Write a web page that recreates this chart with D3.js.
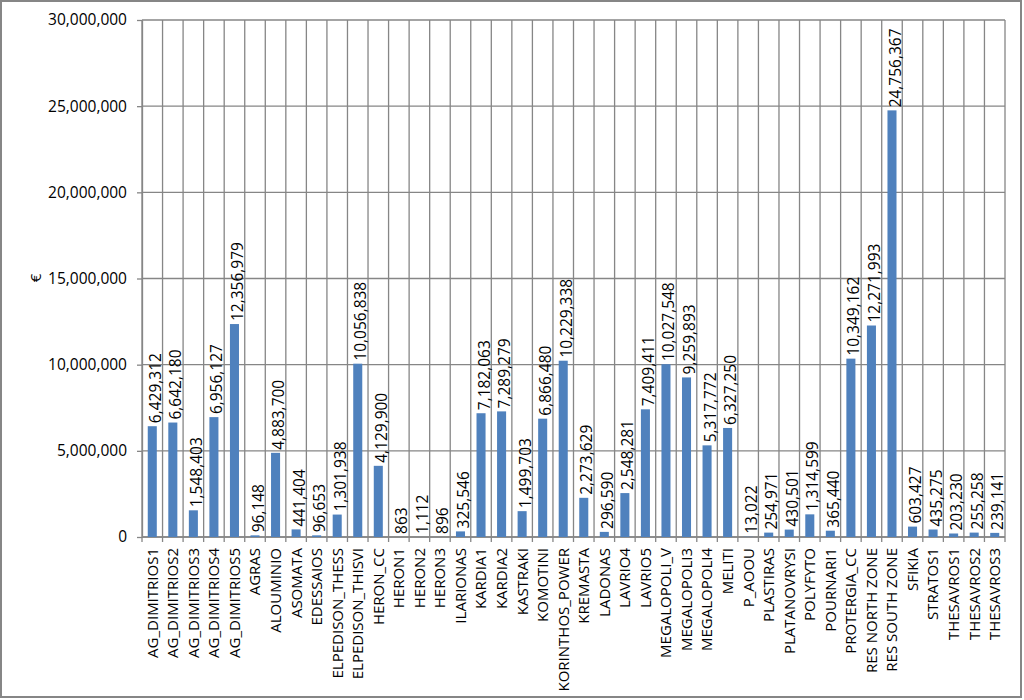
<!DOCTYPE html>
<html><head><meta charset="utf-8">
<script src="https://cdn.jsdelivr.net/npm/d3@7"></script>
<style>body{margin:0;background:#fff}svg{display:block}</style>
</head><body><svg id="c" width="1024" height="700"></svg>
<script>
const categories = ["AG_DIMITRIOS1","AG_DIMITRIOS2","AG_DIMITRIOS3","AG_DIMITRIOS4","AG_DIMITRIOS5","AGRAS","ALOUMINIO","ASOMATA","EDESSAIOS","ELPEDISON_THESS","ELPEDISON_THISVI","HERON_CC","HERON1","HERON2","HERON3","ILARIONAS","KARDIA1","KARDIA2","KASTRAKI","KOMOTINI","KORINTHOS_POWER","KREMASTA","LADONAS","LAVRIO4","LAVRIO5","MEGALOPOLI_V","MEGALOPOLI3","MEGALOPOLI4","MELITI","P_AOOU","PLASTIRAS","PLATANOVRYSI","POLYFYTO","POURNARI1","PROTERGIA_CC","RES NORTH ZONE","RES SOUTH ZONE","SFIKIA","STRATOS1","THESAVROS1","THESAVROS2","THESAVROS3"];
const values = [6429312,6642180,1548403,6956127,12356979,96148,4883700,441404,96653,1301938,10056838,4129900,863,1112,896,325546,7182063,7289279,1499703,6866480,10229338,2273629,296590,2548281,7409411,10027548,9259893,5317772,6327250,13022,254971,430501,1314599,365440,10349162,12271993,24756367,603427,435275,203230,255258,239141];
const yTicks = [0,5000000,10000000,15000000,20000000,25000000,30000000];
const yTitle = "€";

const svg = d3.select("#c");
const font = "'Open Sans', sans-serif";
const grid = "#868686";
const L = 142, R = 1005, T = 20, B = 537;

svg.append("rect").attr("x",1).attr("y",1).attr("width",1020).attr("height",696)
  .attr("fill","none").attr("stroke",grid).attr("stroke-width",2);

const x = d3.scaleBand().domain(categories).range([L,R]).paddingInner(0.56).paddingOuter(0.28);
const y = d3.scaleLinear().domain([0,30000000]).range([B,T]);
const fmt = d3.format(",");

// horizontal gridlines
svg.append("g").selectAll("line").data(yTicks).join("line")
  .attr("x1",L).attr("x2",R).attr("y1",d=>y(d)).attr("y2",d=>y(d))
  .attr("stroke",grid).attr("stroke-width",1.3);

// vertical category gridlines
const step = x.step();
const bounds = d3.range(categories.length+1).map(i => L + i*(R-L)/categories.length);
svg.append("g").selectAll("line").data(bounds).join("line")
  .attr("x1",d=>d).attr("x2",d=>d).attr("y1",T).attr("y2",B+5)
  .attr("stroke",grid).attr("stroke-width",1.3);

// y axis
const ya = svg.append("g").attr("transform",`translate(${L},0)`)
  .call(d3.axisLeft(y).tickValues(yTicks).tickFormat(fmt).tickSizeInner(5).tickSizeOuter(0).tickPadding(10));
ya.select(".domain").attr("stroke",grid).attr("stroke-width",1.3);
ya.selectAll(".tick line").attr("stroke",grid).attr("stroke-width",1.3);
ya.selectAll("text").attr("font-family",font).attr("font-size",15.5).attr("fill","#000");

// x axis line
svg.append("line").attr("x1",L).attr("x2",R).attr("y1",B).attr("y2",B).attr("stroke",grid).attr("stroke-width",1.3);

// bars
svg.append("g").selectAll("rect").data(values).join("rect")
  .attr("x",(d,i)=>x(categories[i])).attr("width",x.bandwidth())
  .attr("y",d=>y(d)).attr("height",d=>B-y(d)).attr("fill","#4F81BD");

// value labels
svg.append("g").selectAll("text").data(values).join("text")
  .attr("transform",(d,i)=>`translate(${x(categories[i])+x.bandwidth()/2},${y(d)-3}) rotate(-90)`)
  .attr("dy","0.55em").attr("text-anchor","start")
  .attr("font-family",font).attr("font-size",15.5).attr("fill","#000")
  .text(d=>fmt(d));

// category labels
svg.append("g").selectAll("text").data(categories).join("text")
  .attr("transform",d=>`translate(${x(d)+x.bandwidth()/2},${B+11}) rotate(-90)`)
  .attr("dy","0.36em").attr("text-anchor","end")
  .attr("font-family",font).attr("font-size",15).attr("fill","#000")
  .text(d=>d);

// y title
svg.append("text").attr("transform",`translate(36,278) rotate(-90)`)
  .attr("text-anchor","middle").attr("dy","0.35em")
  .attr("font-family",font).attr("font-size",15).attr("fill","#000").text(yTitle);
</script></body></html>
